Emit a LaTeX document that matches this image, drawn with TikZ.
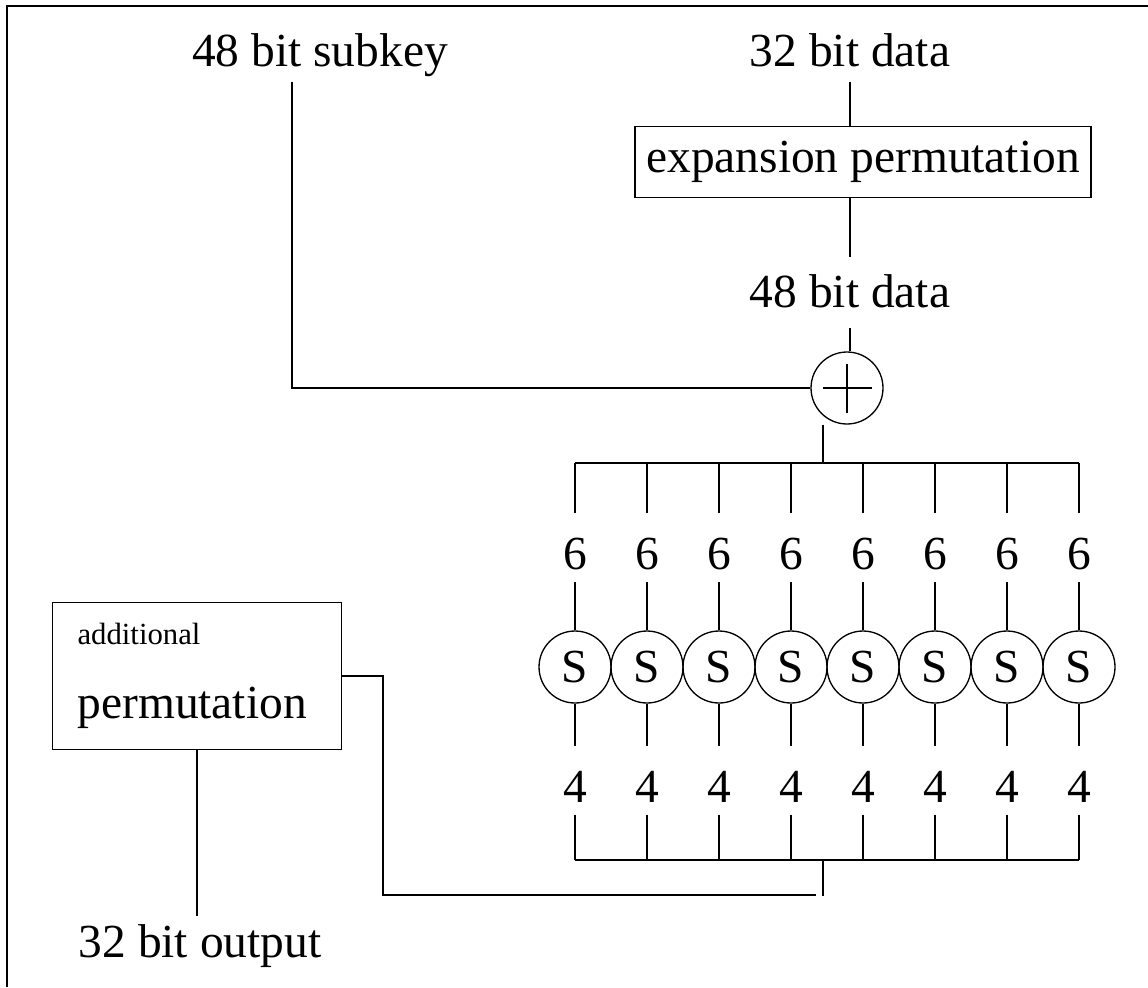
\documentclass[tikz,border=0pt]{standalone}
\usepackage{fontspec}
\setmainfont{Liberation Serif}
\newcommand{\lblfont}{\fontsize{27}{32}\selectfont}
\newcommand{\smallfont}{\fontsize{17.5}{21}\selectfont}
\begin{document}
\begin{tikzpicture}[x=0.02cm, y=-0.02cm, line width=1.1pt,
    every node/.style={font=\lblfont},
    lbl/.style={inner sep=0pt, anchor=base, text height=0.8cm, text depth=0.3cm},
    num/.style={inner sep=0pt, anchor=base, text height=1.1cm, text depth=0.24cm},
    box/.style={rectangle, draw},
    sbox/.style={circle, draw, line width=0.75pt, minimum size=1.44cm, inner sep=0pt},
    xorop/.style={sbox, path picture={
        \draw[line width=1.1pt] ([xshift=-0.49cm]path picture bounding box.center) -- ([xshift=0.49cm]path picture bounding box.center);
        \draw[line width=1.1pt] ([yshift=-0.49cm]path picture bounding box.center) -- ([yshift=0.49cm]path picture bounding box.center);}}
]
    \useasboundingbox (0,0) rectangle (1148,987);

    \node[lbl] (sub) at (320,66) {48 bit subkey};
    \node[lbl] (din) at (850,66) {32 bit data};
    \node[box, minimum width=9.12cm, minimum height=1.42cm, inner sep=0pt] (exp) at (863,162) {expansion permutation};
    \node[lbl, text height=0.98cm, text depth=0.4cm] (d48) at (850,307) {48 bit data};
    \node[xorop] (xor) at (847,388) {};
    \foreach \i in {1,...,8} {
        \node[num] (six\i) at ({575+72*(\i-1)},569) {6};
        \node[sbox] (s\i) at ({575+72*(\i-1)},667) {S};
        \node[num] (four\i) at ({575+72*(\i-1)},802) {4};
    }
    \node[box, align=left, text width=4.78cm, inner xsep=0.5cm, inner ysep=0pt, minimum height=2.94cm] (perm) at (197,676) {{\smallfont additional}\\[10.5pt]permutation};
    \node[lbl] (out) at (200,957) {32 bit output};
    \coordinate (split) at (823,463);
    \coordinate (join) at (823,860);
    \coordinate (jout) at (816,895);

    \draw (7,987) -- (7,6) -- (1148,6);
    \draw (din.south) -- (din.south |- exp.north);
    \draw (exp.south -| d48) -- (d48.north);
    \draw (d48.south) -- (d48.south |- xor.north);
    \draw ([xshift=-0.56cm]sub.south) |- (xor.west);
    \draw (xor.south -| split) -- (split);
    \draw (six1.north |- split) -- (six8.north |- split);
    \foreach \i in {1,...,8} {
        \draw (six\i.north |- split) -- (six\i.north);
        \draw (six\i.south) -- (s\i.north);
        \draw (s\i.south) -- (four\i.north);
        \draw (four\i.south) -- (four\i.south |- join);
    }
    \draw (four1.south |- join) -- (four8.south |- join);
    \draw (join) -- ([yshift=-0.72cm]join);
    \draw (perm.east) -- ++(41,0) |- (jout);
    \draw (perm.south) -- (perm.south |- out.north);
\end{tikzpicture}
\end{document}
